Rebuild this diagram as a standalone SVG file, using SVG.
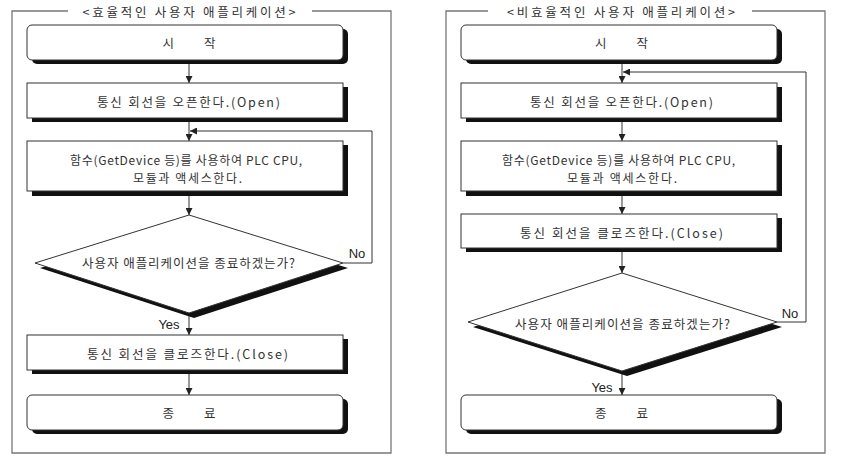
<svg xmlns="http://www.w3.org/2000/svg" width="846" height="474" viewBox="0 0 846 474">
<defs>
<marker id="ah" viewBox="0 0 10 10" refX="10" refY="5" markerWidth="7" markerHeight="7" orient="auto" markerUnits="userSpaceOnUse">
<path d="M0,0 L10,5 L0,10 z" fill="#222"/>
</marker>
</defs>
<style>
.frame{fill:none;stroke:#777;stroke-width:1.3}
.box{fill:#fff;stroke:#333;stroke-width:1}
.sh{fill:#111;stroke:none}
.ln{fill:none;stroke:#333;stroke-width:1}
.t{font-family:"Noto Sans CJK KR","Noto Sans",sans-serif;font-size:12.5px;fill:#333;text-anchor:middle;dominant-baseline:central}
.t2{font-family:"Noto Sans CJK KR","Noto Sans",sans-serif;font-size:12px;fill:#333;text-anchor:middle;dominant-baseline:central}
.lb{font-family:"Liberation Sans",Arial,sans-serif;font-size:13px;fill:#222;text-anchor:middle;dominant-baseline:central}
</style>
<rect width="846" height="474" fill="#fff"/>

<!-- Left panel frame -->
<g id="frameL">
<path class="frame" d="M68,11 H12 V453 H391 V11 H312"/>
<text class="t" x="189" y="11" textLength="213" lengthAdjust="spacing">&lt;효율적인 사용자 애플리케이션&gt;</text>
</g>
<!-- Right panel frame -->
<g id="frameR">
<path class="frame" d="M488,11 H446 V453 H825 V11 H752"/>
<text class="t" x="621" y="11" textLength="228" lengthAdjust="spacing">&lt;비효율적인 사용자 애플리케이션&gt;</text>
</g>

<!-- Connectors -->
<g id="connectors">
<line class="ln" x1="189" y1="60" x2="189" y2="83" marker-end="url(#ah)"/>
<line class="ln" x1="189" y1="118" x2="189" y2="141" marker-end="url(#ah)"/>
<line class="ln" x1="189" y1="191" x2="189" y2="215" marker-end="url(#ah)"/>
<line class="ln" x1="189" y1="313" x2="189" y2="335" marker-end="url(#ah)"/>
<line class="ln" x1="189" y1="370" x2="189" y2="395" marker-end="url(#ah)"/>
<polyline class="ln" points="343,263 372,263 372,131 190,131" marker-end="url(#ah)"/>
<text class="lb" x="357" y="253">No</text>
<text class="lb" x="169" y="324">Yes</text>

<line class="ln" x1="622" y1="60" x2="622" y2="83" marker-end="url(#ah)"/>
<line class="ln" x1="622" y1="118" x2="622" y2="141" marker-end="url(#ah)"/>
<line class="ln" x1="622" y1="191" x2="622" y2="214" marker-end="url(#ah)"/>
<line class="ln" x1="622" y1="248" x2="622" y2="273" marker-end="url(#ah)"/>
<line class="ln" x1="622" y1="371" x2="622" y2="395" marker-end="url(#ah)"/>
<polyline class="ln" points="777,322 806,322 806,72 623,72" marker-end="url(#ah)"/>
<text class="lb" x="790" y="313">No</text>
<text class="lb" x="602" y="387">Yes</text>
</g>

<!-- Left nodes -->
<g id="L_start">
<rect class="sh" x="32" y="29" width="316" height="35" rx="5"/>
<rect class="box" x="27" y="25" width="316" height="35" rx="5"/>
<text class="t" x="189" y="42" textLength="53" lengthAdjust="spacing">시    작</text>
</g>
<g id="L_open">
<rect class="sh" x="32" y="87" width="316" height="35"/>
<rect class="box" x="27" y="83" width="316" height="35"/>
<text class="t" x="188.5" y="101" textLength="183" lengthAdjust="spacing">통신 회선을 오픈한다.(Open)</text>
</g>
<g id="L_access">
<rect class="sh" x="32" y="145" width="316" height="51"/>
<rect class="box" x="27" y="141" width="316" height="50"/>
<text class="t2" x="186" y="159" textLength="232" lengthAdjust="spacing">함수(GetDevice 등)를 사용하여 PLC CPU,</text>
<text class="t2" x="187.5" y="177" textLength="109" lengthAdjust="spacing">모듈과 액세스한다.</text>
</g>
<g id="L_decision">
<polygon class="sh" points="194,220 348,268 194,318 40,268"/>
<polygon class="box" points="189,215 343,263 189,313 35,263"/>
<text class="t" x="188.5" y="262" textLength="213" lengthAdjust="spacing">사용자 애플리케이션을 종료하겠는가?</text>
</g>
<g id="L_close">
<rect class="sh" x="32" y="339" width="316" height="35"/>
<rect class="box" x="27" y="335" width="316" height="35"/>
<text class="t" x="187.5" y="353" textLength="201" lengthAdjust="spacing">통신 회선을 클로즈한다.(Close)</text>
</g>
<g id="L_end">
<rect class="sh" x="32" y="399" width="316" height="35" rx="5"/>
<rect class="box" x="27" y="395" width="316" height="35" rx="5"/>
<text class="t" x="189" y="412" textLength="53" lengthAdjust="spacing">종    료</text>
</g>

<!-- Right nodes -->
<g id="R_start">
<rect class="sh" x="466" y="29" width="316" height="35" rx="5"/>
<rect class="box" x="461" y="25" width="316" height="35" rx="5"/>
<text class="t" x="621.5" y="42" textLength="53" lengthAdjust="spacing">시    작</text>
</g>
<g id="R_open">
<rect class="sh" x="466" y="87" width="316" height="35"/>
<rect class="box" x="461" y="83" width="316" height="35"/>
<text class="t" x="621.5" y="101" textLength="183" lengthAdjust="spacing">통신 회선을 오픈한다.(Open)</text>
</g>
<g id="R_access">
<rect class="sh" x="466" y="145" width="316" height="51"/>
<rect class="box" x="461" y="141" width="316" height="50"/>
<text class="t2" x="618.5" y="159" textLength="233" lengthAdjust="spacing">함수(GetDevice 등)를 사용하여 PLC CPU,</text>
<text class="t2" x="622" y="177" textLength="110" lengthAdjust="spacing">모듈과 액세스한다.</text>
</g>
<g id="R_close">
<rect class="sh" x="466" y="218" width="316" height="34"/>
<rect class="box" x="461" y="214" width="316" height="34"/>
<text class="t" x="621.5" y="232" textLength="203" lengthAdjust="spacing">통신 회선을 클로즈한다.(Close)</text>
</g>
<g id="R_decision">
<polygon class="sh" points="627,278 782,327 627,376 473,327"/>
<polygon class="box" points="622,273 777,322 622,371 468,322"/>
<text class="t" x="622.5" y="323" textLength="215" lengthAdjust="spacing">사용자 애플리케이션을 종료하겠는가?</text>
</g>
<g id="R_end">
<rect class="sh" x="466" y="399" width="316" height="35" rx="5"/>
<rect class="box" x="461" y="395" width="316" height="35" rx="5"/>
<text class="t" x="621.5" y="412" textLength="53" lengthAdjust="spacing">종    료</text>
</g>
</svg>
